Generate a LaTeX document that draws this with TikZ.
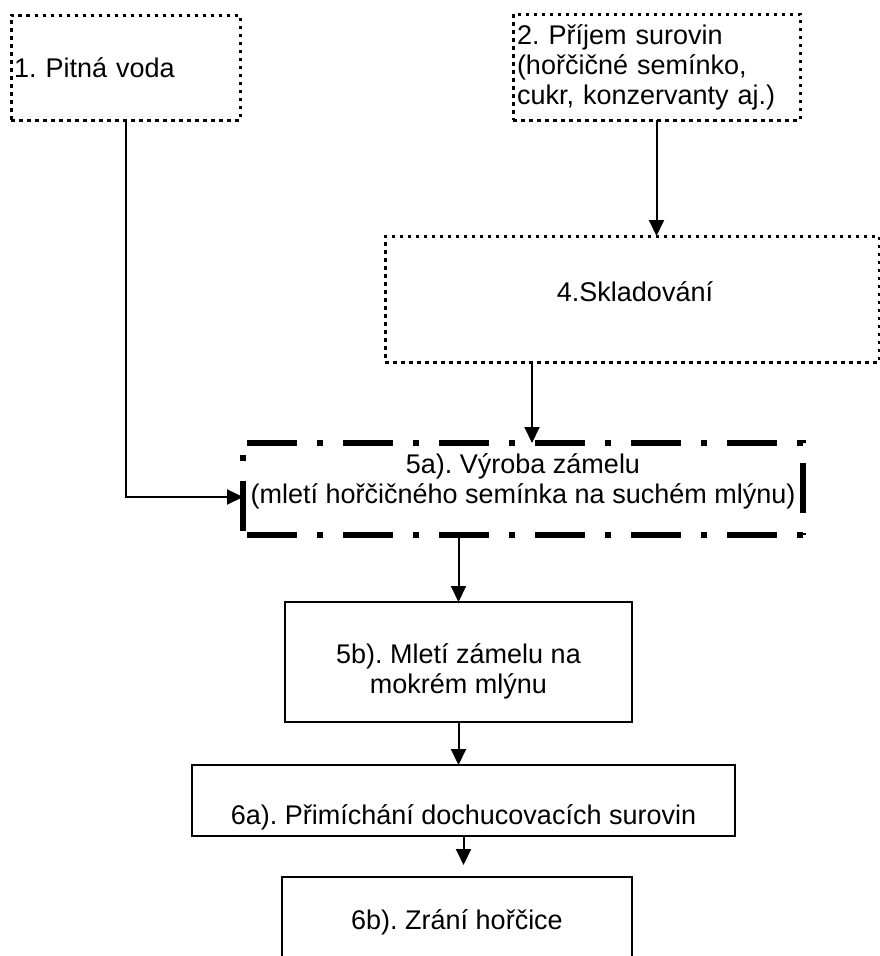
\documentclass[tikz,border=0pt]{standalone}
\usepackage{fontspec}
\setmainfont{Liberation Sans}
\usetikzlibrary{arrows.meta}
\begin{document}
\frenchspacing
\begin{tikzpicture}[x=1pt,y=-1pt,
  every node/.style={font=\fontsize{27}{30}\selectfont\frenchspacing, inner sep=0pt, outer sep=0pt},
  dotbox/.style={draw, line width=3pt, dash pattern=on 3.5pt off 4.5pt, rectangle},
  solidbox/.style={draw, line width=2pt, rectangle},
  plainbox/.style={rectangle},
  dashdotline/.style={line width=5.5pt, dash pattern=on 50pt off 20pt on 6pt off 20pt, dash phase=92pt},
  txt/.style={align=center},
  arr/.style={line width=2pt, -{Triangle[width=15pt,length=16pt]}},
]
\useasboundingbox (0,0) rectangle (880,956);
\clip (0,0) rectangle (880,956);

% boxes
\node[dotbox, minimum width=229pt, minimum height=105pt, text width=223pt, align=left] (b1) at (125.5,67.5) {1. Pitná voda};
\node[dotbox, minimum width=287pt, minimum height=106pt, text width=279pt, align=left] (b2) at (656.5,67) {2. Příjem surovin\\(hořčičné semínko,\\cukr, konzervanty aj.)};
\node[dotbox, minimum width=494pt, minimum height=126pt] (b4) at (632,299) {};
\node[plainbox, minimum width=560pt, minimum height=92pt] (b5a) at (523,489) {};
\draw[dashdotline] (b5a.north west) -- (b5a.north east) -- (b5a.south east);
\draw[dashdotline] (b5a.south west) -- (b5a.south east);
\draw[dashdotline] (b5a.south west) -- (b5a.north west);
\node[solidbox, minimum width=347pt, minimum height=120pt] (b5b) at (458.5,662) {};
\node[solidbox, minimum width=543pt, minimum height=71pt] (b6a) at (463.5,800.5) {};
\node[solidbox, minimum width=350pt, minimum height=90pt] (b6b) at (457,922) {};

% texts
\node[txt] (t4) at ([xshift=3pt,yshift=7pt]b4.center) {4.Skladování};
\node[txt] (t5a) at ([yshift=8pt]b5a.center) {5a). Výroba zámelu\\(mletí hořčičného semínka na suchém mlýnu)};
\node[txt] (t5b) at ([yshift=-9pt]b5b.center) {5b). Mletí zámelu na\\mokrém mlýnu};
\node[txt] (t6a) at ([yshift=-17pt]b6a.center) {6a). Přimíchání dochucovacích surovin};
\node[txt] (t6b) at (b6b.center) {6b). Zrání hořčice};

% connectors
\draw[arr] (b2.south) -- (b2.south |- b4.north);
\draw[arr] ([xshift=-100pt]b4.south) -- ([xshift=-100pt]b4.south |- b5a.north);
\draw[arr] (b1.south) |- ([yshift=-8pt]b5a.west);
\draw[arr] (b5a.south -| b5b.north) -- (b5b.north);
\draw[arr] (b5b.south) -- (b5b.south |- b6a.north);
\draw[arr] (b6a.south) -- ([yshift=12pt]b6a.south |- b6b.north);
\end{tikzpicture}
\end{document}
